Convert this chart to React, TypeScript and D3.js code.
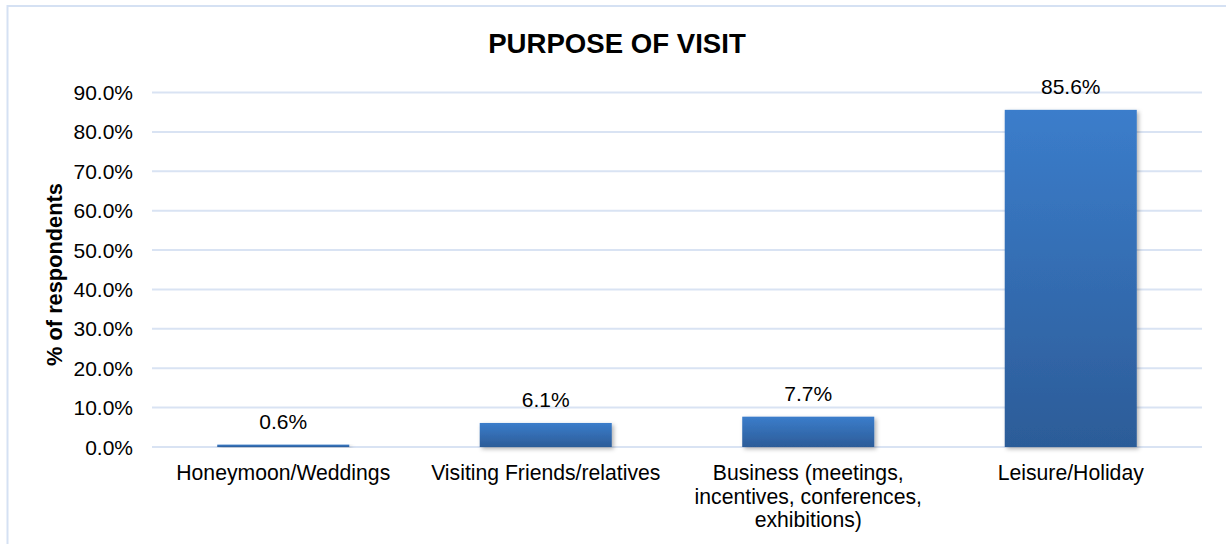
import React from "react";
import * as d3 from "d3";

const categories: string[][] = [
  ["Honeymoon/Weddings"],
  ["Visiting Friends/relatives"],
  ["Business (meetings,", "incentives, conferences,", "exhibitions)"],
  ["Leisure/Holiday"],
];
const values: number[] = [0.6, 6.1, 7.7, 85.6];
const yTicks: number[] = [0, 10, 20, 30, 40, 50, 60, 70, 80, 90];
const title = "PURPOSE OF VISIT";
const yTitle = "% of respondents";

const W = 1226;
const H = 544;
const FONT = "'Liberation Sans', Arial, sans-serif";

export default function App() {
  const left = 152;
  const right = 1202;
  const top = 92.5;
  const bottom = 447;
  const x = d3
    .scaleBand<number>()
    .domain(categories.map((_, i) => i))
    .range([left, right])
    .paddingInner(0.497)
    .paddingOuter(0.2485);
  const y = d3.scaleLinear().domain([0, 90]).range([bottom, top]);
  const fmt = (v: number) => v.toFixed(1) + "%";

  return (
    <svg
      width={W}
      height={H}
      style={{ position: "absolute", left: 0, top: 0, background: "#fff" }}
      fontFamily={FONT}
    >
      <defs>
        <linearGradient id="barGrad" x1="0" y1="0" x2="0" y2="1">
          <stop offset="0" stopColor="#3b7dcb" />
          <stop offset="1" stopColor="#2c5c98" />
        </linearGradient>
        <filter id="shadow" x="-10%" y="-10%" width="130%" height="140%">
          <feDropShadow dx="2" dy="2" stdDeviation="2" floodColor="#000" floodOpacity="0.3" />
        </filter>
      </defs>
      <rect x={7.5} y={6} width={1240} height={560} fill="#fff" stroke="#d5e1f3" strokeWidth={2} />
      <text x={617} y={52.5} textAnchor="middle" fontSize={27.6} fontWeight="bold" fill="#000">
        {title}
      </text>
      {yTicks.map((t) => (
        <g key={t}>
          <line x1={left} x2={right} y1={y(t)} y2={y(t)} stroke="#d9e3f3" strokeWidth={2} />
          <text x={133} y={y(t)} dy="0.36em" textAnchor="end" fontSize={21} fill="#000">
            {fmt(t)}
          </text>
        </g>
      ))}
      <text
        transform={`translate(62,274.5) rotate(-90)`}
        textAnchor="middle"
        fontSize={21.8}
        fontWeight="bold"
        fill="#000"
      >
        {yTitle}
      </text>
      {values.map((v, i) => {
        const bx = x(i)!;
        const bw = x.bandwidth();
        const by = y(v);
        return (
          <g key={i}>
            <rect
              x={bx}
              y={by}
              width={bw}
              height={bottom - by}
              fill="url(#barGrad)"
              filter="url(#shadow)"
            />
            <text x={bx + bw / 2} y={by - 16} textAnchor="middle" fontSize={21} fill="#000">
              {fmt(v)}
            </text>
          </g>
        );
      })}
      {categories.map((lines, i) => (
        <text key={i} textAnchor="middle" fontSize={21.2} fill="#000">
          {lines.map((l, j) => (
            <tspan key={j} x={x(i)! + x.bandwidth() / 2} y={480 + j * 23.5}>
              {l}
            </tspan>
          ))}
        </text>
      ))}
    </svg>
  );
}
